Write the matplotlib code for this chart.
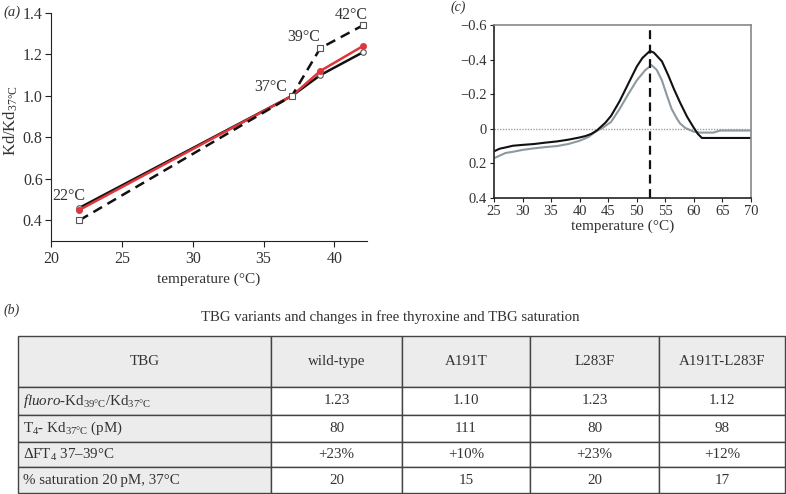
import matplotlib
matplotlib.use('Agg')
import matplotlib.pyplot as plt

plt.rcParams['font.family'] = ['Liberation Serif', 'DejaVu Serif']
plt.rcParams['mathtext.fontset'] = 'custom'
plt.rcParams['mathtext.rm'] = 'Liberation Serif'
plt.rcParams['mathtext.it'] = 'Liberation Serif:italic'
plt.rcParams['text.color'] = '#333333'
plt.rcParams['axes.labelcolor'] = '#333333'
plt.rcParams['xtick.color'] = '#333333'
plt.rcParams['ytick.color'] = '#333333'

# panel (a) data: Kd relative to 37 C
temps_a = [22, 37, 39, 42]
kd_black = [0.46, 1.0, 1.10, 1.21]
kd_red = [0.45, 1.0, 1.12, 1.24]
kd_dashed = [0.40, 1.0, 1.23, 1.34]

# panel (c) data: melting curves
temp_black = [25, 26, 27, 28.3, 30, 32, 34, 36, 38, 40, 41, 42, 43, 43.5, 44.5, 45.5, 47,
              48.5, 50, 51, 52.3, 53, 54.4, 55.5, 56.5, 57.6, 58.8, 59.9, 60.7, 61.4, 70]
val_black = [0.130, 0.115, 0.108, 0.098, 0.093, 0.088, 0.080, 0.073, 0.063, 0.050, 0.042,
             0.030, 0.010, -0.005, -0.035, -0.075, -0.16, -0.26, -0.36, -0.41, -0.45, -0.44,
             -0.39, -0.31, -0.23, -0.15, -0.07, -0.01, 0.03, 0.053, 0.053]
temp_gray = [25, 26, 27, 28.3, 30, 32, 34.2, 36, 38, 40, 41.5, 43, 44, 45.5, 47, 48.5, 50,
             51.5, 52.6, 53.5, 54.4, 55.3, 56.1, 57, 57.6, 58.5, 59.9, 61, 63.4, 64.6, 70]
val_gray = [0.17, 0.155, 0.14, 0.133, 0.122, 0.113, 0.105, 0.100, 0.088, 0.069, 0.048, 0.012,
            -0.005, -0.04, -0.115, -0.20, -0.28, -0.34, -0.368, -0.34, -0.28, -0.19, -0.115,
            -0.06, -0.03, -0.005, 0.016, 0.022, 0.022, 0.01, 0.01]
tm = 52.3

# panel (b) table
col_labels = ['TBG', 'wild-type', 'A191T', 'L283F', 'A191T-L283F']
row_labels = [r'$\it{fluoro}$-Kd$_{\rm 39°C}$/Kd$_{\rm 37°C}$',
              r'T$_4$- Kd$_{\rm 37°C}$ (pM)',
              r'ΔFT$_4$ 37–39°C',
              '% saturation 20\u2009pM, 37°C']
kd_ratio = ['1.23', '1.10', '1.23', '1.12']
t4_kd = ['80', '111', '80', '98']
dft4 = ['+23%', '+10%', '+23%', '+12%']
saturation = ['20', '15', '20', '17']

fig = plt.figure(figsize=(7.86, 4.94), dpi=100)

# ---- panel (a)
ax = fig.add_axes([0.0649, 0.5121, 0.402, 0.4616])
ax.plot(temps_a, kd_black, color='#111111', lw=1.8, marker='o', ms=4,
        mfc='white', mec='#555555', mew=0.8)
ax.plot(temps_a, kd_red, color='#e0353b', lw=1.8, marker='o', ms=4,
        mfc='#e0353b', mec='#e0353b')
ax.plot(temps_a, kd_dashed, color='#111111', lw=1.8, ls=(0, (4, 2.5)), marker='s',
        ms=4, mfc='white', mec='#555555', mew=0.8)
offsets = [(-7.5, 2.5), (-15, 1), (-12, 2.5), (-8, 2)]
for t, k, off in zip(temps_a, kd_dashed, offsets):
    lab_y = kd_black[0] if t == 22 else k
    ax.annotate(f'{t}°C', (t, lab_y), xytext=off, textcoords='offset points',
                ha='center', va='bottom', fontsize=11.5)
ax.set_xlim(20, 42.3)
ax.set_ylim(0.3, 1.4)
ax.set_xticks([20, 25, 30, 35, 40])
ax.set_yticks([0.4, 0.6, 0.8, 1.0, 1.2, 1.4])
ax.set_yticklabels(['0.4', '0.6', '0.8', '1.0', '1.2', '1.4'])
ax.spines['top'].set_visible(False)
ax.spines['right'].set_visible(False)
for s in ['left', 'bottom']:
    ax.spines[s].set_color('#222222')
ax.tick_params(labelsize=11.5, length=4, color='#222222')
ax.tick_params(axis='y', pad=2)
ax.set_xlabel('temperature (°C)', fontsize=11, labelpad=4)
ax.set_ylabel(r'Kd/Kd$_{\rm 37°C}$', fontsize=12)
ax.yaxis.set_label_coords(-0.097, 0.53)
fig.text(0.005, 0.975, '(a)', style='italic', fontsize=10.5, va='center')

# ---- panel (c)
ax2 = fig.add_axes([0.6285, 0.5992, 0.327, 0.3502])
ax2.axhline(0, color='#b09a9a', lw=1, ls=(0, (1, 1)))
ax2.plot(temp_gray, val_gray, color='#8c9aa0', lw=1.5)
ax2.plot(temp_black, val_black, color='#111111', lw=1.5)
ax2.axvline(tm, color='#111111', lw=1.6, ls=(0, (4, 2.5)))
ax2.set_xlim(25, 70)
ax2.set_ylim(0.4, -0.6)
ax2.set_xticks(range(25, 71, 5))
ax2.set_yticks([-0.6, -0.4, -0.2, 0, 0.2, 0.4])
ax2.set_yticklabels(['\u22120.6', '\u22120.4', '\u22120.2', '0', '0.2', '0.4'])
for s in ax2.spines.values():
    s.set_color('#888888')
    s.set_linewidth(1.2)
ax2.spines['left'].set_color('#222222')
ax2.spines['bottom'].set_color('#222222')
ax2.tick_params(labelsize=10.5, length=3, color='#222222', pad=2)
ax2.set_xlabel('temperature (°C)', fontsize=11, labelpad=1)
fig.text(0.573, 0.985, '(c)', style='italic', fontsize=10, va='center')

# ---- panel (b)
fig.text(0.005, 0.372, '(b)', style='italic', fontsize=10, va='center')
fig.text(0.497, 0.358, 'TBG variants and changes in free thyroxine and TBG saturation',
         ha='center', va='center', fontsize=10.6)
ax3 = fig.add_axes([18 / 786, 1 / 494, 767 / 786, 157 / 494])
ax3.axis('off')
body = [kd_ratio, t4_kd, dft4, saturation]
cell_text = [[lab] + vals for lab, vals in zip(row_labels, body)]
col_w = [253, 131, 128, 129, 126]
tab = ax3.table(cellText=cell_text, colLabels=col_labels, colWidths=col_w,
                bbox=[0, 0, 1, 1], cellLoc='center')
tab.auto_set_font_size(False)
row_h = [51, 28, 27, 25, 26]
for (r, c), cell in tab.get_celld().items():
    cell.set_height(row_h[r])
    cell.set_edgecolor('#444444')
    cell.set_linewidth(1.0)
    cell.get_text().set_fontsize(10.8)
    cell.get_text().set_color('#333333')
    if r == 0 or c == 0:
        cell.set_facecolor('#ececec')
    if c == 0 and r > 0:
        cell.get_text().set_ha('left')
        cell.PAD = 0.02
        cell._loc = 'left'

fig.savefig('out.png', dpi=100)
